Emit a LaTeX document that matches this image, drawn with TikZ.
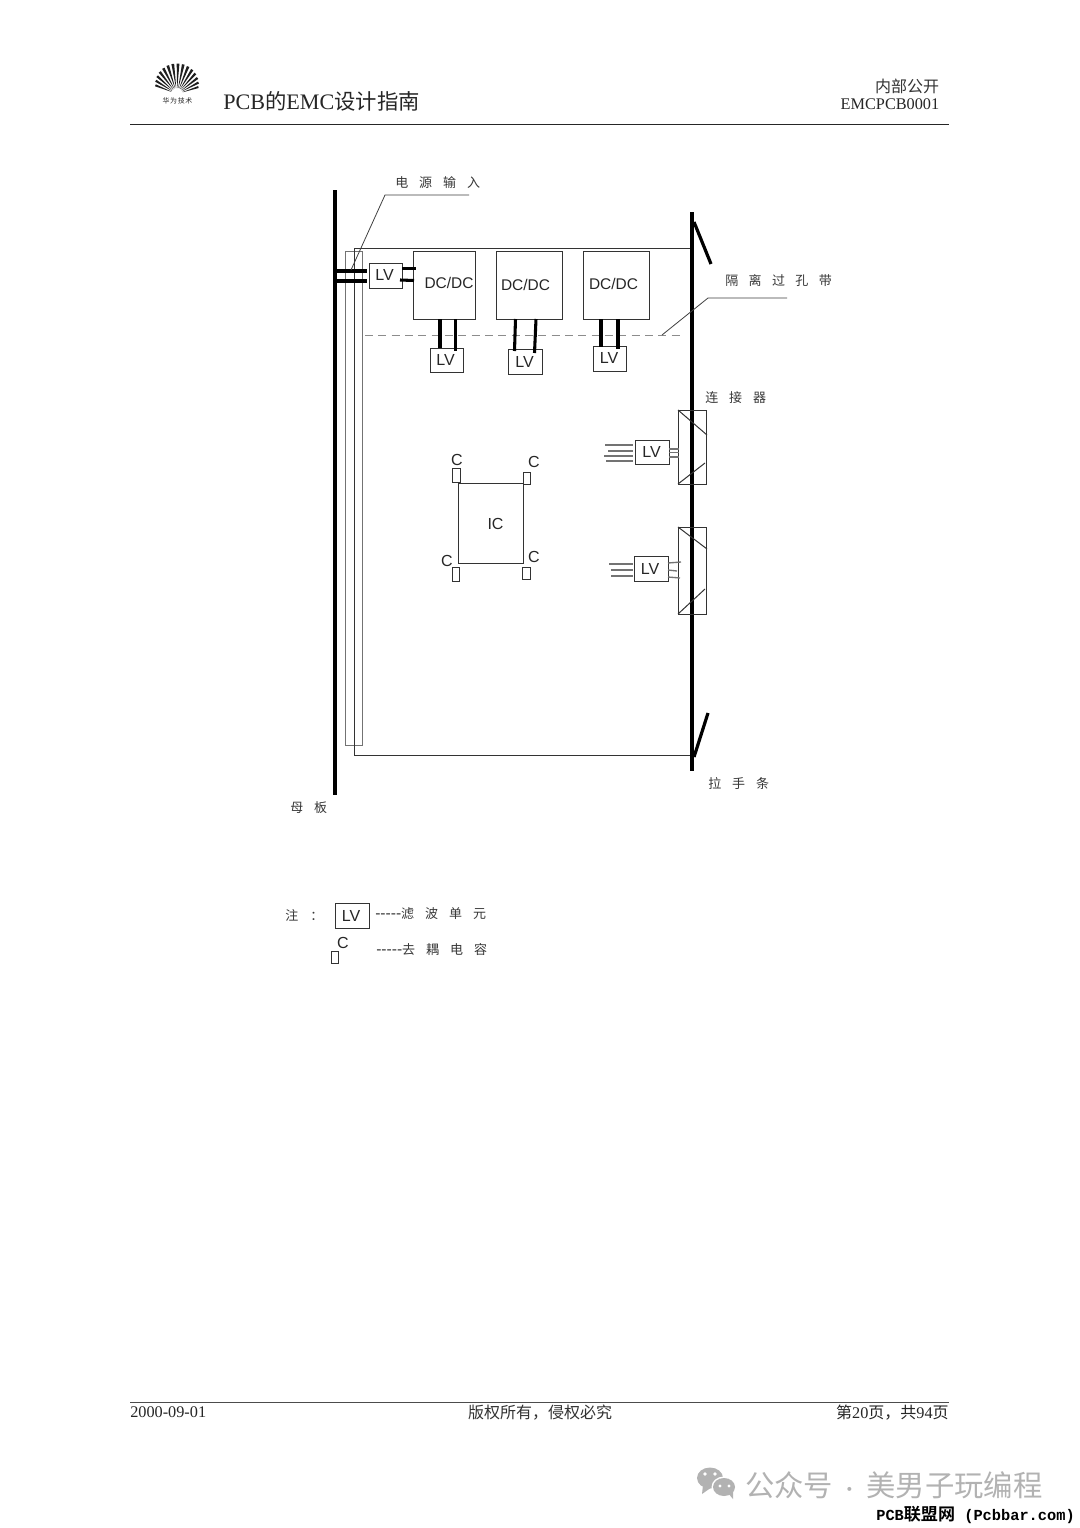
\documentclass[tikz,border=0pt]{standalone}
\usepackage{fontspec}
\setmainfont{Liberation Serif}
\setsansfont{Liberation Sans}
\newfontfamily\cjk{Noto Sans CJK SC}
\newfontfamily\cjkb[BoldFont={Noto Sans CJK SC Bold}]{Noto Sans CJK SC}
\newfontfamily\wmono{Liberation Mono}
\newcommand\gp{\hspace{8.2pt}}
\newcommand\dsh{{\sffamily\fontsize{11.7}{12}\selectfont -{}-{}-{}-{}-}}
% shifted anchor: name.anchor, dx, dy in reference pixels
\newcommand\Sh[3]{([xshift=#2*0.75pt,yshift=-#3*0.75pt]#1)}
% box from corner coordinates
\newcommand\rbox[6][boxline]{\node[#1,minimum width={(#5-#3)*0.75pt},minimum height={(#6-#4)*0.75pt}] (#2) at ({(#3+#5)/2},{(#4+#6)/2}) {};}
\tikzset{
  x=0.75pt,y=-0.75pt,
  boxline/.style={draw=black!80,line width=0.75pt,rectangle,inner sep=0pt,outer sep=0pt},
  greybox/.style={draw=black!55,line width=0.75pt,rectangle,inner sep=0pt,outer sep=0pt},
  lv/.style={font=\sffamily\fontsize{12}{12}\selectfont,inner sep=0pt,text=black!85},
  dcl/.style={font=\sffamily\fontsize{11.6}{12}\selectfont,inner sep=0pt,text=black!85},
  zh/.style={font=\cjk\fontsize{9.75}{10}\selectfont,inner sep=0pt,anchor=west,text=black!78},
  hd/.style={font=\fontsize{12.2}{13}\selectfont,inner sep=0pt,text=black!85},
  hdz/.style={font=\cjk\fontsize{12}{13}\selectfont,inner sep=0pt,text=black!80},
  heavy/.style={line width=2.4pt,black},
  wire/.style={line width=2.3pt,black},
  thinw/.style={line width=1pt,black!55},
  leader/.style={line width=0.6pt,black!75},
  rule/.style={line width=0.75pt,black!85},
}
\begin{document}
\begin{tikzpicture}
\useasboundingbox (0,0) rectangle (1080,1528);
\fill[white] (0,0) rectangle (1080,1528);

% ---- header
\coordinate (hl) at (130,124); \coordinate (hr) at (949,124);
\draw[rule] (hl) -- (hr);
\foreach \a in {18,28,...,165}{
  \fill[black!88] ({177+6*cos(\a-1)},{94-6*sin(\a-1)}) -- ({177+(19+11.5*sin(\a))*cos(\a-2.6)},{94-(19+11.5*sin(\a))*sin(\a-2.6)})
     -- ({177+(19+11.5*sin(\a))*cos(\a+2.6)},{94-(19+11.5*sin(\a))*sin(\a+2.6)}) -- ({177+6*cos(\a+1)},{94-6*sin(\a+1)}) -- cycle;
}
\node[inner sep=0pt,font=\cjk\fontsize{5.2}{6}\selectfont,text=black!85] (logotext) at (177.5,100.7) {华\hspace{0.5pt}为\hspace{0.5pt}技\hspace{0.5pt}术};
\node[anchor=west,inner sep=0pt,font=\fontsize{16.6}{17}\selectfont,text=black!85] (title) at (223,101.5) {PCB{\cjk\fontsize{16}{17}\selectfont 的}EMC{\cjk\fontsize{16}{17}\selectfont 设计指南}};
\node[hdz,anchor=east] (secret) at (939.5,86) {内部公开};
\node[hd,anchor=east] (docid) at (939.5,104.5) {EMCPCB0001};

% ---- board
\rbox[greybox]{strip}{345}{251}{362}{745}
\rbox[boxline]{board}{354}{248}{690}{755}
\draw[black!45,dash pattern=on 6pt off 4pt,line width=0.5pt] \Sh{board.north west}{11}{87} coordinate (dashl) -- \Sh{board.north west}{328}{87} coordinate (dashr);

% mother board and panel
\coordinate (mbt) at (335,190); \coordinate (mbb) at (335,795);
\draw[heavy] (mbt) -- (mbb);
\coordinate (pt) at (692,212); \coordinate (pb) at (692,771);
\draw[heavy] (pt) -- (pb);
\coordinate (h1a) at (694,222); \coordinate (h1b) at (711,264);
\coordinate (h2a) at (694,757); \coordinate (h2b) at (708,713);
\draw[heavy] (h1a) -- (h1b);
\draw[heavy] (h2a) -- (h2b);

% ---- input filter and DC/DC
\rbox{lvin}{369}{263}{402}{288}
\node[lv] (lvint) at (384.5,275) {LV};
\rbox{dc1}{413}{251}{475}{319}
\rbox{dc2}{496}{251}{562}{319}
\rbox{dc3}{583}{251}{649}{319}
\node[dcl] (dc1t) at (449,283) {DC/DC};
\node[dcl] (dc2t) at (525.5,285) {DC/DC};
\node[dcl] (dc3t) at (613.5,284) {DC/DC};
\rbox{lv1}{430}{348}{463.5}{372}
\rbox{lv2}{508}{349}{542}{374}
\rbox{lv3}{593}{346}{626.5}{371}
\node[lv] (lv1t) at (445.5,360) {LV};
\node[lv] (lv2t) at (524.5,361.5) {LV};
\node[lv] (lv3t) at (609,358) {LV};

\draw[wire] (mbt |- lvin.north west) ++(0,8) coordinate (w1s) -- \Sh{lvin.north west}{-2}{8};
\draw[wire] (mbt |- lvin.north west) ++(0,18) coordinate (w2s) -- \Sh{lvin.north west}{-2}{18};
\draw[wire] \Sh{lvin.north east}{0}{5.5} -- \Sh{dc1.north west}{3}{17.5};
\draw[wire] \Sh{lvin.north east}{-2}{17} -- \Sh{dc1.north west}{1}{29.5};
\draw[wire] \Sh{dc1.south west}{27}{0} -- \Sh{lv1.north west}{10}{0};
\draw[wire] \Sh{dc1.south west}{42.5}{0} -- \Sh{lv1.north west}{25.5}{3};
\draw[wire] \Sh{dc2.south west}{19.5}{0} -- \Sh{lv2.north west}{6.5}{2};
\draw[wire] \Sh{dc2.south west}{40}{0} -- \Sh{lv2.north west}{26.5}{4};
\draw[wire] \Sh{dc3.south west}{18}{0} -- \Sh{lv3.north west}{8}{1};
\draw[wire] \Sh{dc3.south west}{35}{0} -- \Sh{lv3.north west}{25}{3};

% ---- leaders and labels
\node[zh] (lbin) at (395,183) {电\gp 源\gp 输\gp 入};
\coordinate (inel) at (385,195); \coordinate (iner) at (469,195); \coordinate (inep) at (351,270);
\draw[leader] (iner) -- (inel) -- (inep);
\node[zh] (lbvia) at (725,281) {隔\hspace{7.8pt}离\hspace{7.8pt}过\hspace{7.8pt}孔\hspace{7.8pt}带};
\coordinate (vial) at (708,298); \coordinate (viar) at (787,298); \coordinate (viap) at (662,335);
\draw[leader] (viar) -- (vial) -- (viap);
\node[zh] (lbcon) at (705,398) {连\gp 接\gp 器};
\node[zh] (lbhan) at (708,783) {拉\gp 手\gp 条};
\node[zh] (lbmb) at (290,808) {母\gp 板};

% ---- connectors
\rbox{con1}{678}{410}{706}{484}
\rbox{con2}{678}{527}{706}{614}
\draw[boxline] (con1.north west) -- \Sh{con1.north west}{29}{25};
\draw[boxline] (con1.south west) -- \Sh{con1.south west}{27}{-21};
\draw[boxline] (con2.north west) -- \Sh{con2.north west}{29}{22};
\draw[boxline] (con2.south west) -- \Sh{con2.south west}{27}{-25};

\rbox{lvc1}{635}{440}{669}{464}
\node[lv] (lvc1t) at (651.5,451.5) {LV};
\rbox{lvc2}{634}{556.5}{668}{581}
\node[lv] (lvc2t) at (650,568.5) {LV};
\foreach \y/\xs in {5/605,11/608,16/604,21/606}{
  \coordinate (a) at (\xs,440);
  \draw[thinw] \Sh{a}{0}{\y} -- \Sh{lvc1.north west}{-2}{\y};
}
\draw[thinw] \Sh{lvc1.north east}{0}{9} -- \Sh{con1.north west}{1}{39};
\draw[thinw] \Sh{lvc1.north east}{0}{12.5} -- \Sh{con1.north west}{1}{42.5};
\draw[thinw] \Sh{lvc1.north east}{0}{17} -- \Sh{con1.north west}{1}{47};
\foreach \y/\xs in {7.5/609,13.5/611,19.5/611}{
  \coordinate (a) at (\xs,556.5);
  \draw[thinw] \Sh{a}{0}{\y} -- \Sh{lvc2.north west}{-1}{\y};
}
\draw[thinw] \Sh{lvc2.north east}{0}{6.5} -- \Sh{con2.north west}{3}{35};
\draw[thinw] \Sh{lvc2.north east}{0}{13.5} -- \Sh{con2.north west}{-1}{44};
\draw[thinw] \Sh{lvc2.north east}{0}{20.5} -- \Sh{con2.north west}{2}{51};

% ---- IC
\rbox{ic}{458}{483}{523}{563}
\node[lv] (ict) at (495.5,523.5) {IC};
\rbox{c1}{452}{468}{460}{482}
\rbox{c2}{523}{472}{530}{484}
\rbox{c3}{452}{567}{459}{581}
\rbox{c4}{522}{567}{530}{579}
\node[lv] (c1t) at (457,460) {C};
\node[lv] (c2t) at (534,462) {C};
\node[lv] (c3t) at (447,561) {C};
\node[lv] (c4t) at (534,557) {C};

% ---- legend
\node[zh] (nt) at (285,915) {注\hspace{9pt}：};
\rbox{lvk}{335}{903}{369}{928}
\node[lv] (lvkt) at (351,915.5) {LV};
\node[zh] (lvkd) at (375,914) {\dsh 滤\gp 波\gp 单\gp 元};
\rbox{ck}{331}{951}{338}{963}
\node[lv] (ckt) at (343,943) {C};
\node[zh] (ckd) at (376,950) {\dsh 去\gp 耦\gp 电\gp 容};

% ---- footer
\coordinate (fl) at (130,1402.5); \coordinate (fr) at (949,1402.5);
\draw[rule,black!70] (fl) -- (fr);
\node[hd,anchor=west] (fdate) at (130,1412.5) {2000-09-01};
\node[hdz] (fcopy) at (540,1412.5) {版权所有，侵权必究};
\node[hd,anchor=east] (fpage) at (949,1412.5) {{\cjk\fontsize{12}{13}\selectfont 第}20{\cjk\fontsize{12}{13}\selectfont 页，共}94{\cjk\fontsize{12}{13}\selectfont 页}};

% ---- watermark
\fill[black!30] (710,1478) ellipse [x radius=13,y radius=10.5];
\fill[black!30] (703,1485) -- (702,1494) -- (712,1487) -- cycle;
\fill[white] (724,1487) ellipse [x radius=12.5,y radius=10.5];
\fill[black!30] (724,1487) ellipse [x radius=11,y radius=9];
\fill[black!30] (728,1493) -- (733,1499) -- (733,1490) -- cycle;
\fill[white] (705,1474) circle [radius=1.8] (715,1474) circle [radius=1.8] (720,1486) circle [radius=1.6] (729,1486) circle [radius=1.6];
\node[anchor=west,inner sep=0pt,font=\cjk\fontsize{22}{23}\selectfont,text=black!30] (wm) at (745,1485) {公众号\makebox[25pt][c]{\fontsize{14}{14}\selectfont ·}美男子玩编程};
\node[anchor=east,inner sep=0pt,font=\wmono\bfseries\fontsize{11.5}{12}\selectfont] (site) at (1075,1515) {PCB{\cjkb\bfseries\fontsize{12.8}{13}\selectfont 联盟网} (Pcbbar.com)};
\end{tikzpicture}
\end{document}
